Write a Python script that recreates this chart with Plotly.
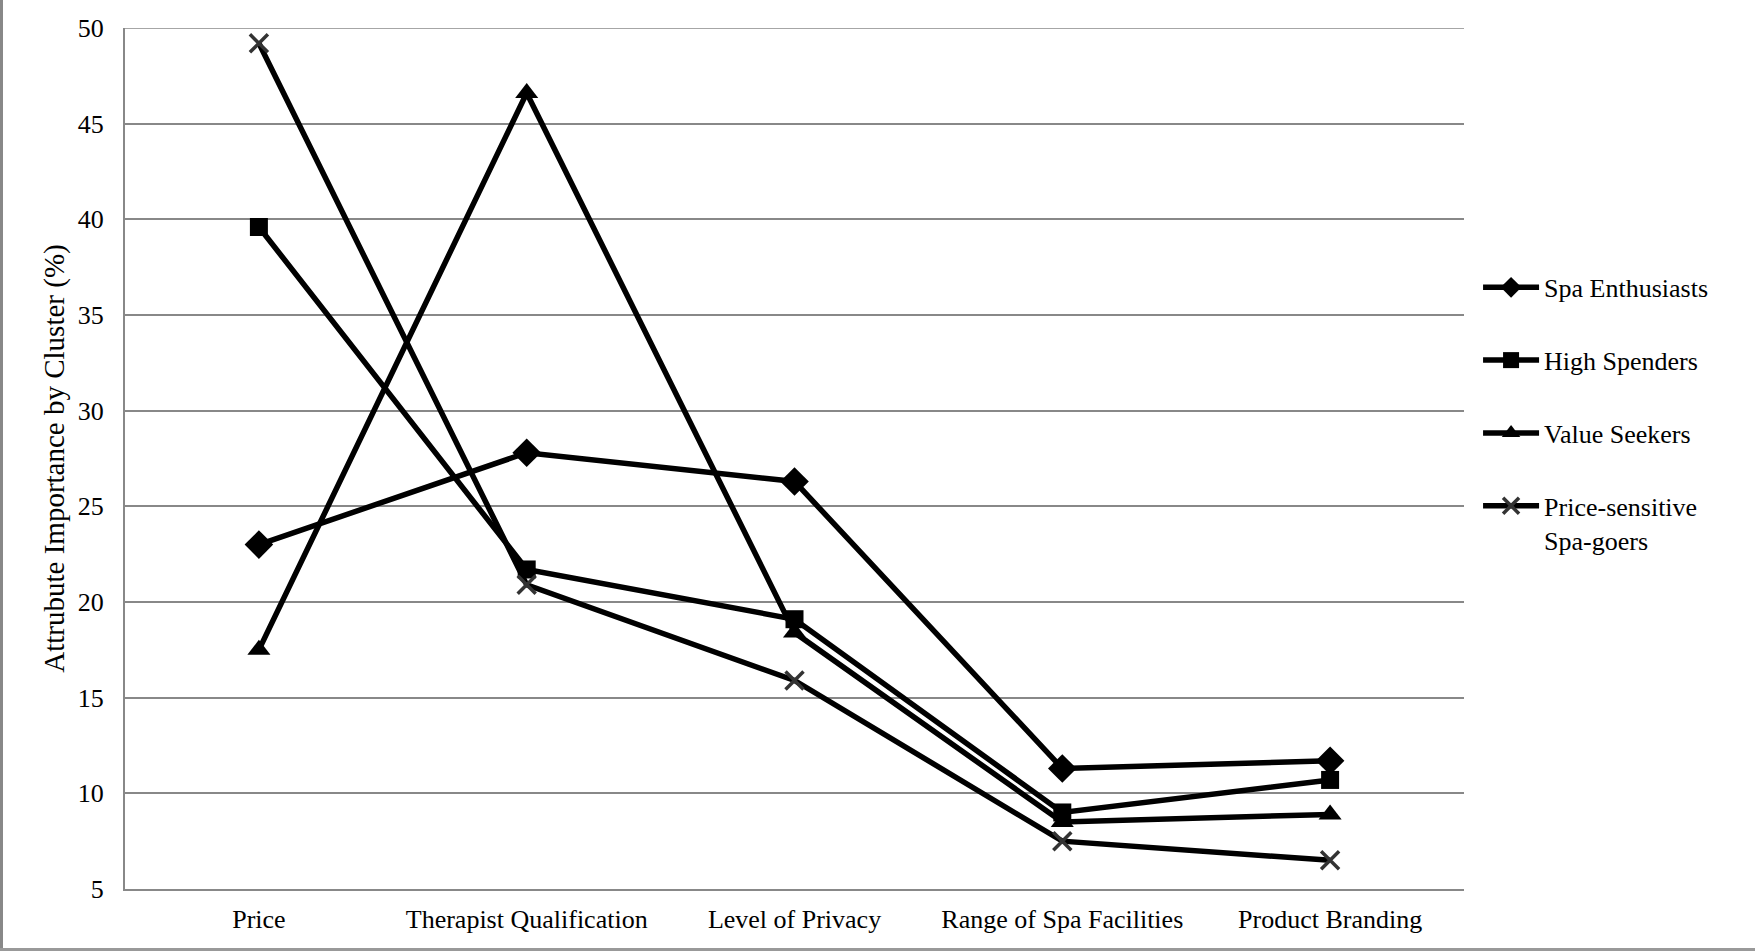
import plotly.graph_objects as go

categories = ["Price", "Therapist Qualification", "Level of Privacy", "Range of Spa Facilities", "Product Branding"]
spa_enthusiasts = [23.0, 27.8, 26.3, 11.3, 11.7]
high_spenders = [39.6, 21.7, 19.1, 9.0, 10.7]
value_seekers = [17.5, 46.6, 18.4, 8.5, 8.9]
price_sensitive = [49.2, 20.9, 15.9, 7.5, 6.5]

W, H = 1755, 951
L, R, T, B = 125, 291, 28, 62
pw, ph = W - L - R, H - T - B

FONT = "Liberation Serif, Times New Roman, serif"
FS = 26

fig = go.Figure()
series = [
    ("Spa Enthusiasts", spa_enthusiasts, "diamond", 22, "black", 0),
    ("High Spenders", high_spenders, "square", 18, "black", 0),
    ("Value Seekers", value_seekers, "triangle-up", 20, "black", 0),
    ("Price-sensitive<br>Spa-goers", price_sensitive, "x-thin", 18, "#333", 3.5),
]
for i, (name, vals, sym, size, col, lw) in enumerate(series):
    marker = dict(symbol=sym, size=size, color="black")
    if lw:
        marker["line"] = dict(color=col, width=lw)
    fig.add_trace(go.Scatter(
        x=categories, y=vals, name=name, mode="lines+markers",
        line=dict(color="black", width=5.5),
        marker=marker, legendgroup=str(i),
    ))

fig.update_layout(
    width=W, height=H,
    margin=dict(l=L, r=R, t=T, b=B),
    paper_bgcolor="white", plot_bgcolor="white",
    font=dict(family=FONT, size=FS, color="black"),
    legend=dict(x=1.0105, y=0.726, xanchor="left", yanchor="top",
                tracegroupgap=36, valign="top",
                font=dict(family=FONT, size=FS, color="black"),
                itemwidth=56),
    showlegend=True,
)
fig.update_xaxes(
    type="category", range=[-0.5, 4.5], showgrid=False,
    showline=True, linecolor="#888", linewidth=2,
    ticks="outside", ticklen=6, tickcolor="rgba(0,0,0,0)",
    tickfont=dict(family=FONT, size=FS),
)
fig.update_yaxes(
    range=[5, 50], dtick=5, tick0=5, showgrid=True, gridcolor="#888", gridwidth=1.5,
    showline=True, linecolor="#888", linewidth=2, zeroline=False,
    ticks="outside", ticklen=14, tickcolor="rgba(0,0,0,0)",
    tickfont=dict(family=FONT, size=FS),
    title=dict(text="Attrubute Importance by Cluster (%)", font=dict(family=FONT, size=29), standoff=5),
)
# top gridline at 50
fig.add_shape(type="line", xref="paper", yref="y", x0=0, x1=1, y0=50, y1=50,
              line=dict(color="#888", width=1.5), layer="below")
# outer frame lines (left and bottom edges of image)
fig.add_shape(type="line", xref="paper", yref="paper",
              x0=-L / pw + 1.5 / pw, x1=-L / pw + 1.5 / pw, y0=-B / ph, y1=(H - T) / ph,
              line=dict(color="#888", width=3))
fig.add_shape(type="line", xref="paper", yref="paper",
              x0=-L / pw, x1=(W - L) / pw, y0=-B / ph + 1.5 / ph, y1=-B / ph + 1.5 / ph,
              line=dict(color="#999", width=3))

fig.write_html("out.html", config={"displayModeBar": False},
               post_script="document.body.style.margin='0';document.body.style.padding='0';document.body.style.overflow='hidden';")
